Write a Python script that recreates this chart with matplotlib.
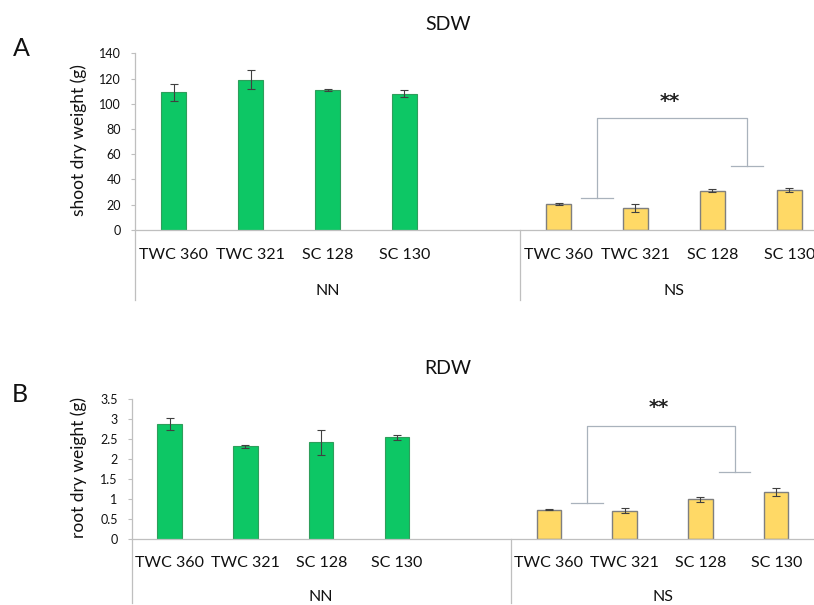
import matplotlib
matplotlib.use("Agg")
import matplotlib.pyplot as plt
import numpy as np

plt.rcParams['font.family'] = ['Lato', 'DejaVu Sans']

# ---------------- data ----------------
cultivars = ["TWC 360", "TWC 321", "SC 128", "SC 130"]
groups = ["NN", "NS"]

sdw_nn = [109, 119, 110.5, 108]
sdw_nn_err = [7, 7.5, 0.8, 3]
sdw_ns = [20.5, 17, 31, 31.5]
sdw_ns_err = [0.8, 3.3, 1.0, 1.8]

rdw_nn = [2.87, 2.31, 2.41, 2.54]
rdw_nn_err = [0.14, 0.03, 0.31, 0.06]
rdw_ns = [0.73, 0.70, 0.99, 1.17]
rdw_ns_err = [0.02, 0.06, 0.06, 0.10]

# significance bracket heights (data units): top, left foot, right foot
sdw_bracket = [88.6, 25.5, 50.7]
rdw_bracket = [2.83, 0.885, 1.66]

# ---------------- layout ----------------
W, H = 814, 605
fig = plt.figure(figsize=(W / 100, H / 100), dpi=100)

GREEN = "#0DC765"
GREEN_EDGE = "#2E9E5B"
YELLOW = "#FFD966"
YELLOW_EDGE = "#7F7F7F"
AXIS_C = "#BFBFBF"
BRACKET_C = "#A9B2BC"
ERR_C = "#404040"
TXT = "#111111"

nn_pos = np.arange(4)
ns_pos = np.arange(4) + 5


def make_panel(rect_px, ylim, yticks, nn, nn_err, ns, ns_err, bracket,
               ylabel, title, letter, cat_y, grp_y, sep_y, title_px,
               letter_px, ylabel_px, star_off):
    left, top, width, bottom = rect_px
    ax = fig.add_axes([left / W, 1 - bottom / H, width / W, (bottom - top) / H])
    ax.set_xlim(-0.5, 8.5)
    ax.set_ylim(*ylim)
    ax.bar(nn_pos, nn, width=0.32, color=GREEN, edgecolor=GREEN_EDGE,
           linewidth=0.8, zorder=2)
    ax.bar(ns_pos, ns, width=0.32, color=YELLOW, edgecolor=YELLOW_EDGE,
           linewidth=1.0, zorder=2)
    ax.errorbar(nn_pos, nn, yerr=nn_err, fmt='none', ecolor=ERR_C,
                elinewidth=0.8, capsize=3, capthick=0.8, zorder=3)
    ax.errorbar(ns_pos, ns, yerr=ns_err, fmt='none', ecolor=ERR_C,
                elinewidth=0.8, capsize=3, capthick=0.8, zorder=3)

    for s in ['top', 'right']:
        ax.spines[s].set_visible(False)
    ax.spines['left'].set_color(AXIS_C)
    ax.spines['bottom'].set_color(AXIS_C)
    ax.spines['left'].set_linewidth(0.9)
    ax.spines['bottom'].set_linewidth(0.9)
    ax.set_yticks(yticks)
    ax.set_yticklabels(['%g' % t for t in yticks])
    ax.tick_params(axis='y', length=3, width=0.8, color=AXIS_C, pad=7,
                   labelsize=9, labelcolor=TXT)
    ax.set_xticks([])

    tr = ax.get_xaxis_transform()
    # category labels
    for p, c in zip(list(nn_pos) + list(ns_pos), cultivars + cultivars):
        ax.text(p, cat_y, c, transform=tr, ha='center', va='center',
                fontsize=11.5, color=TXT)
    ax.text(2, grp_y, groups[0], transform=tr, ha='center', va='center',
            fontsize=11.5, color=TXT)
    ax.text(6.5, grp_y, groups[1], transform=tr, ha='center', va='center',
            fontsize=11.5, color=TXT)
    # group separators
    for xs in (-0.5, 4.5):
        ax.plot([xs, xs], [0, sep_y], transform=tr, color=AXIS_C, lw=0.9,
                clip_on=False)

    # significance bracket
    btop, bl, br = bracket
    xl, xr = 5.5, 7.45
    ax.plot([xl, xl, xr, xr], [bl, btop, btop, br], color=BRACKET_C, lw=0.9)
    ax.plot([xl - 0.21, xl + 0.21], [bl, bl], color=BRACKET_C, lw=0.9)
    ax.plot([xr - 0.21, xr + 0.21], [br, br], color=BRACKET_C, lw=0.9)
    ax.text(6.45, btop + star_off, "**", ha='center', va='center',
            fontsize=14, fontweight='bold', color='#222222',
            family=['DejaVu Sans'])

    fig.text(ylabel_px[0] / W, 1 - ylabel_px[1] / H, ylabel, rotation=90,
             ha='center', va='center', fontsize=12.5, color=TXT)
    fig.text(title_px[0] / W, 1 - title_px[1] / H, title, ha='center',
             va='center', fontsize=14, color=TXT)
    fig.text(letter_px[0] / W, 1 - letter_px[1] / H, letter, ha='center',
             va='center', fontsize=18, color=TXT)
    return ax


make_panel((135, 53.3, 693, 229.7), (0, 140), np.arange(0, 141, 20),
           sdw_nn, sdw_nn_err, sdw_ns, sdw_ns_err, sdw_bracket,
           "shoot dry weight (g)", "SDW", "A",
           cat_y=-0.143, grp_y=-0.3475, sep_y=-0.40,
           title_px=(448, 25), letter_px=(21, 48), ylabel_px=(79, 140),
           star_off=13)

make_panel((131.6, 398.7, 682.6, 538.7), (0, 3.5), np.arange(0, 3.51, 0.5),
           rdw_nn, rdw_nn_err, rdw_ns, rdw_ns_err, rdw_bracket,
           "root dry weight (g)", "RDW", "B",
           cat_y=-0.1736, grp_y=-0.414, sep_y=-0.46,
           title_px=(448, 368), letter_px=(20, 394), ylabel_px=(79, 467),
           star_off=0.45)

fig.savefig("out.png", dpi=100)
